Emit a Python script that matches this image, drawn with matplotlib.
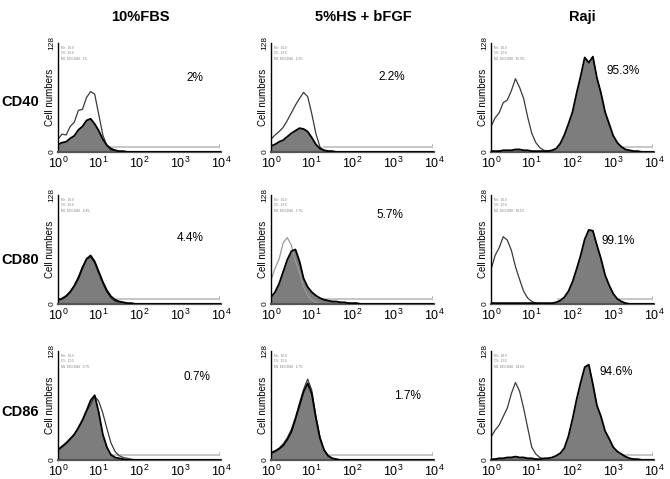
import matplotlib.pyplot as plt
import numpy as np

plt.rcParams['font.family'] = ['Liberation Sans', 'DejaVu Sans']

# channel positions in decades (10^0 .. 10^4), 0.1 decade bins
log_bins = np.round(np.arange(0, 4.01, 0.1), 1)

col_titles = ['10%FBS', '5%HS + bFGF', 'Raji']
row_titles = ['CD40', 'CD80', 'CD86']
percents = [['2%', '2.2%', '95.3%'],
            ['4.4%', '5.7%', '99.1%'],
            ['0.7%', '1.7%', '94.6%']]

# isotype control (open) histograms, counts per bin from 10^0 upward
cd40_fbs_open = [15, 21, 20, 30, 35, 49, 50, 64, 71, 68, 44, 20, 7, 2, 1]
cd40_hs_open = [15, 20, 24, 29, 37, 46, 55, 63, 70, 65, 45, 22, 6, 2, 1]
cd40_raji_open = [30, 40, 46, 58, 61, 72, 86, 76, 63, 41, 22, 11, 5, 2, 1]
cd80_fbs_open = [5, 7, 10, 15, 22, 32, 44, 52, 55, 48, 36, 24, 14, 7, 3, 2, 1]
cd80_hs_open = [28, 42, 53, 72, 78, 69, 50, 37, 20, 10, 5, 2, 1]
cd80_raji_open = [40, 57, 66, 79, 75, 63, 44, 29, 15, 7, 3, 1]
cd86_fbs_open = [12, 15, 19, 24, 30, 37, 46, 57, 65, 75, 69, 55, 37, 20, 10, 5, 3, 2, 1]
cd86_hs_open = [9, 11, 14, 19, 26, 36, 50, 67, 83, 95, 82, 52, 27, 12, 5, 2, 1]
cd86_raji_open = [27, 35, 41, 51, 61, 78, 91, 81, 61, 38, 15, 7, 3, 1]

# antibody stained (filled) histograms
cd40_fbs_fill = [9, 11, 12, 16, 19, 26, 30, 37, 39, 33, 25, 15, 8, 4, 2, 1, 1]
cd40_hs_fill = [7, 9, 12, 14, 18, 22, 25, 28, 27, 24, 17, 9, 4, 2, 1, 1]
cd40_raji_fill = [1, 1, 1, 2, 2, 2, 3, 3, 2, 2, 1, 1, 1, 1, 1, 2, 4, 10, 20, 33,
                  47, 69, 89, 111, 105, 112, 87, 69, 47, 33, 19, 11, 6, 3, 2, 1, 1]
cd80_fbs_fill = [5, 6, 9, 14, 21, 30, 42, 53, 57, 50, 38, 26, 16, 9, 5, 3, 2, 1, 1]
cd80_hs_fill = [8, 14, 24, 38, 52, 62, 64, 50, 30, 20, 14, 10, 7, 5, 4, 3, 3, 2, 2, 1, 1, 1]
cd80_raji_fill = [1, 1, 1, 1, 1, 1, 1, 1, 1, 1, 1, 1, 1, 1, 1, 1, 2, 4, 8, 15,
                  26, 41, 57, 76, 87, 86, 69, 53, 34, 22, 12, 6, 3, 1]
cd86_fbs_fill = [12, 16, 20, 25, 30, 38, 47, 58, 70, 76, 56, 30, 15, 6, 3, 2, 1]
cd86_hs_fill = [8, 10, 13, 17, 24, 33, 48, 64, 80, 90, 78, 50, 26, 12, 5, 2, 1]
cd86_raji_fill = [1, 1, 2, 2, 3, 3, 4, 3, 3, 2, 2, 1, 1, 2, 2, 3, 5, 8, 14, 28,
                  48, 71, 91, 109, 112, 89, 64, 51, 34, 25, 15, 10, 7, 4, 2, 1, 1]

open_hists = [[cd40_fbs_open, cd40_hs_open, cd40_raji_open],
              [cd80_fbs_open, cd80_hs_open, cd80_raji_open],
              [cd86_fbs_open, cd86_hs_open, cd86_raji_open]]
fill_hists = [[cd40_fbs_fill, cd40_hs_fill, cd40_raji_fill],
              [cd80_fbs_fill, cd80_hs_fill, cd80_raji_fill],
              [cd86_fbs_fill, cd86_hs_fill, cd86_raji_fill]]

# gate marker (M1) start, in decades
gate_start = [1.25, 1.3, 1.65]

W, H = 670, 479
fig = plt.figure(figsize=(W / 100, H / 100), dpi=100, facecolor='white')

col_left = [58, 271, 491]
col_width = 163
row_top = [43, 195, 351]
row_height = 109
title_x = [140, 363, 582]
row_label_y = [102, 260, 412]
pct_pos = [[(0.84, 0.68), (0.74, 0.69), (0.81, 0.74)],
           [(0.81, 0.61), (0.73, 0.82), (0.78, 0.58)],
           [(0.85, 0.76), (0.84, 0.59), (0.77, 0.81)]]


def pad(vals):
    arr = np.zeros(len(log_bins))
    arr[:len(vals)] = vals
    return arr


for r in range(3):
    for c in range(3):
        ax = fig.add_axes([col_left[c] / W, 1 - (row_top[r] + row_height) / H,
                           col_width / W, row_height / H])
        x = 10 ** log_bins
        yo = pad(open_hists[r][c])
        yf = pad(fill_hists[r][c])
        ax.fill_between(x, yf, color='#7d7d7d', lw=0, zorder=1)
        open_col = '#9a9a9a' if (r, c) == (1, 1) else '#3a3a3a'
        ax.plot(x, yo, color=open_col, lw=0.9, zorder=2)
        ax.plot(x, yf, color='black', lw=1.3, zorder=3)

        # gate marker line
        ax.plot([10 ** gate_start[c], 10 ** 3.95], [6, 6], color='#bdbdbd', lw=1.2, zorder=0)
        ax.plot([10 ** 3.95] * 2, [6, 9], color='#bdbdbd', lw=0.8, zorder=0)

        ax.set_xscale('log')
        ax.set_xlim(1, 1e4)
        ax.set_ylim(0, 128)
        ax.set_xticks([1, 10, 100, 1000, 10000])
        ax.minorticks_off()
        ax.set_yticks([0, 128])
        ax.set_yticklabels(['0', '128'], rotation=90, va='center', fontsize=6)
        ax.tick_params(axis='both', length=0)
        ax.tick_params(axis='x', labelsize=9, pad=3)
        ax.tick_params(axis='y', pad=2)
        ax.set_ylabel('Cell numbers', fontsize=7, va='center')
        ax.yaxis.set_label_coords(-8 / col_width, 0.5)
        for s in ['top', 'right']:
            ax.spines[s].set_visible(False)
        ax.spines['left'].set_linewidth(1.0)
        ax.spines['bottom'].set_linewidth(1.6)
        ax.spines['bottom'].set_color('#555555')

        # tiny stats box
        ax.text(0.02, 0.97, 'Mn:  ' + '10.9\nCV:  12.0\nM1  10/3,2046   ' + percents[r][c],
                transform=ax.transAxes, fontsize=2.2, color='#777777',
                va='top', ha='left', linespacing=1.3)

        ax.text(pct_pos[r][c][0], pct_pos[r][c][1], percents[r][c],
                transform=ax.transAxes, fontsize=8.5, ha='center', va='center')

for c, t in enumerate(col_titles):
    fig.text(title_x[c] / W, 1 - 17 / H, t,
             fontsize=10.5, fontweight='bold', ha='center', va='center')
for r, t in enumerate(row_titles):
    fig.text(20 / W, 1 - row_label_y[r] / H, t,
             fontsize=10.5, fontweight='bold', ha='center', va='center')

fig.savefig('out.png', dpi=100, facecolor='white')
